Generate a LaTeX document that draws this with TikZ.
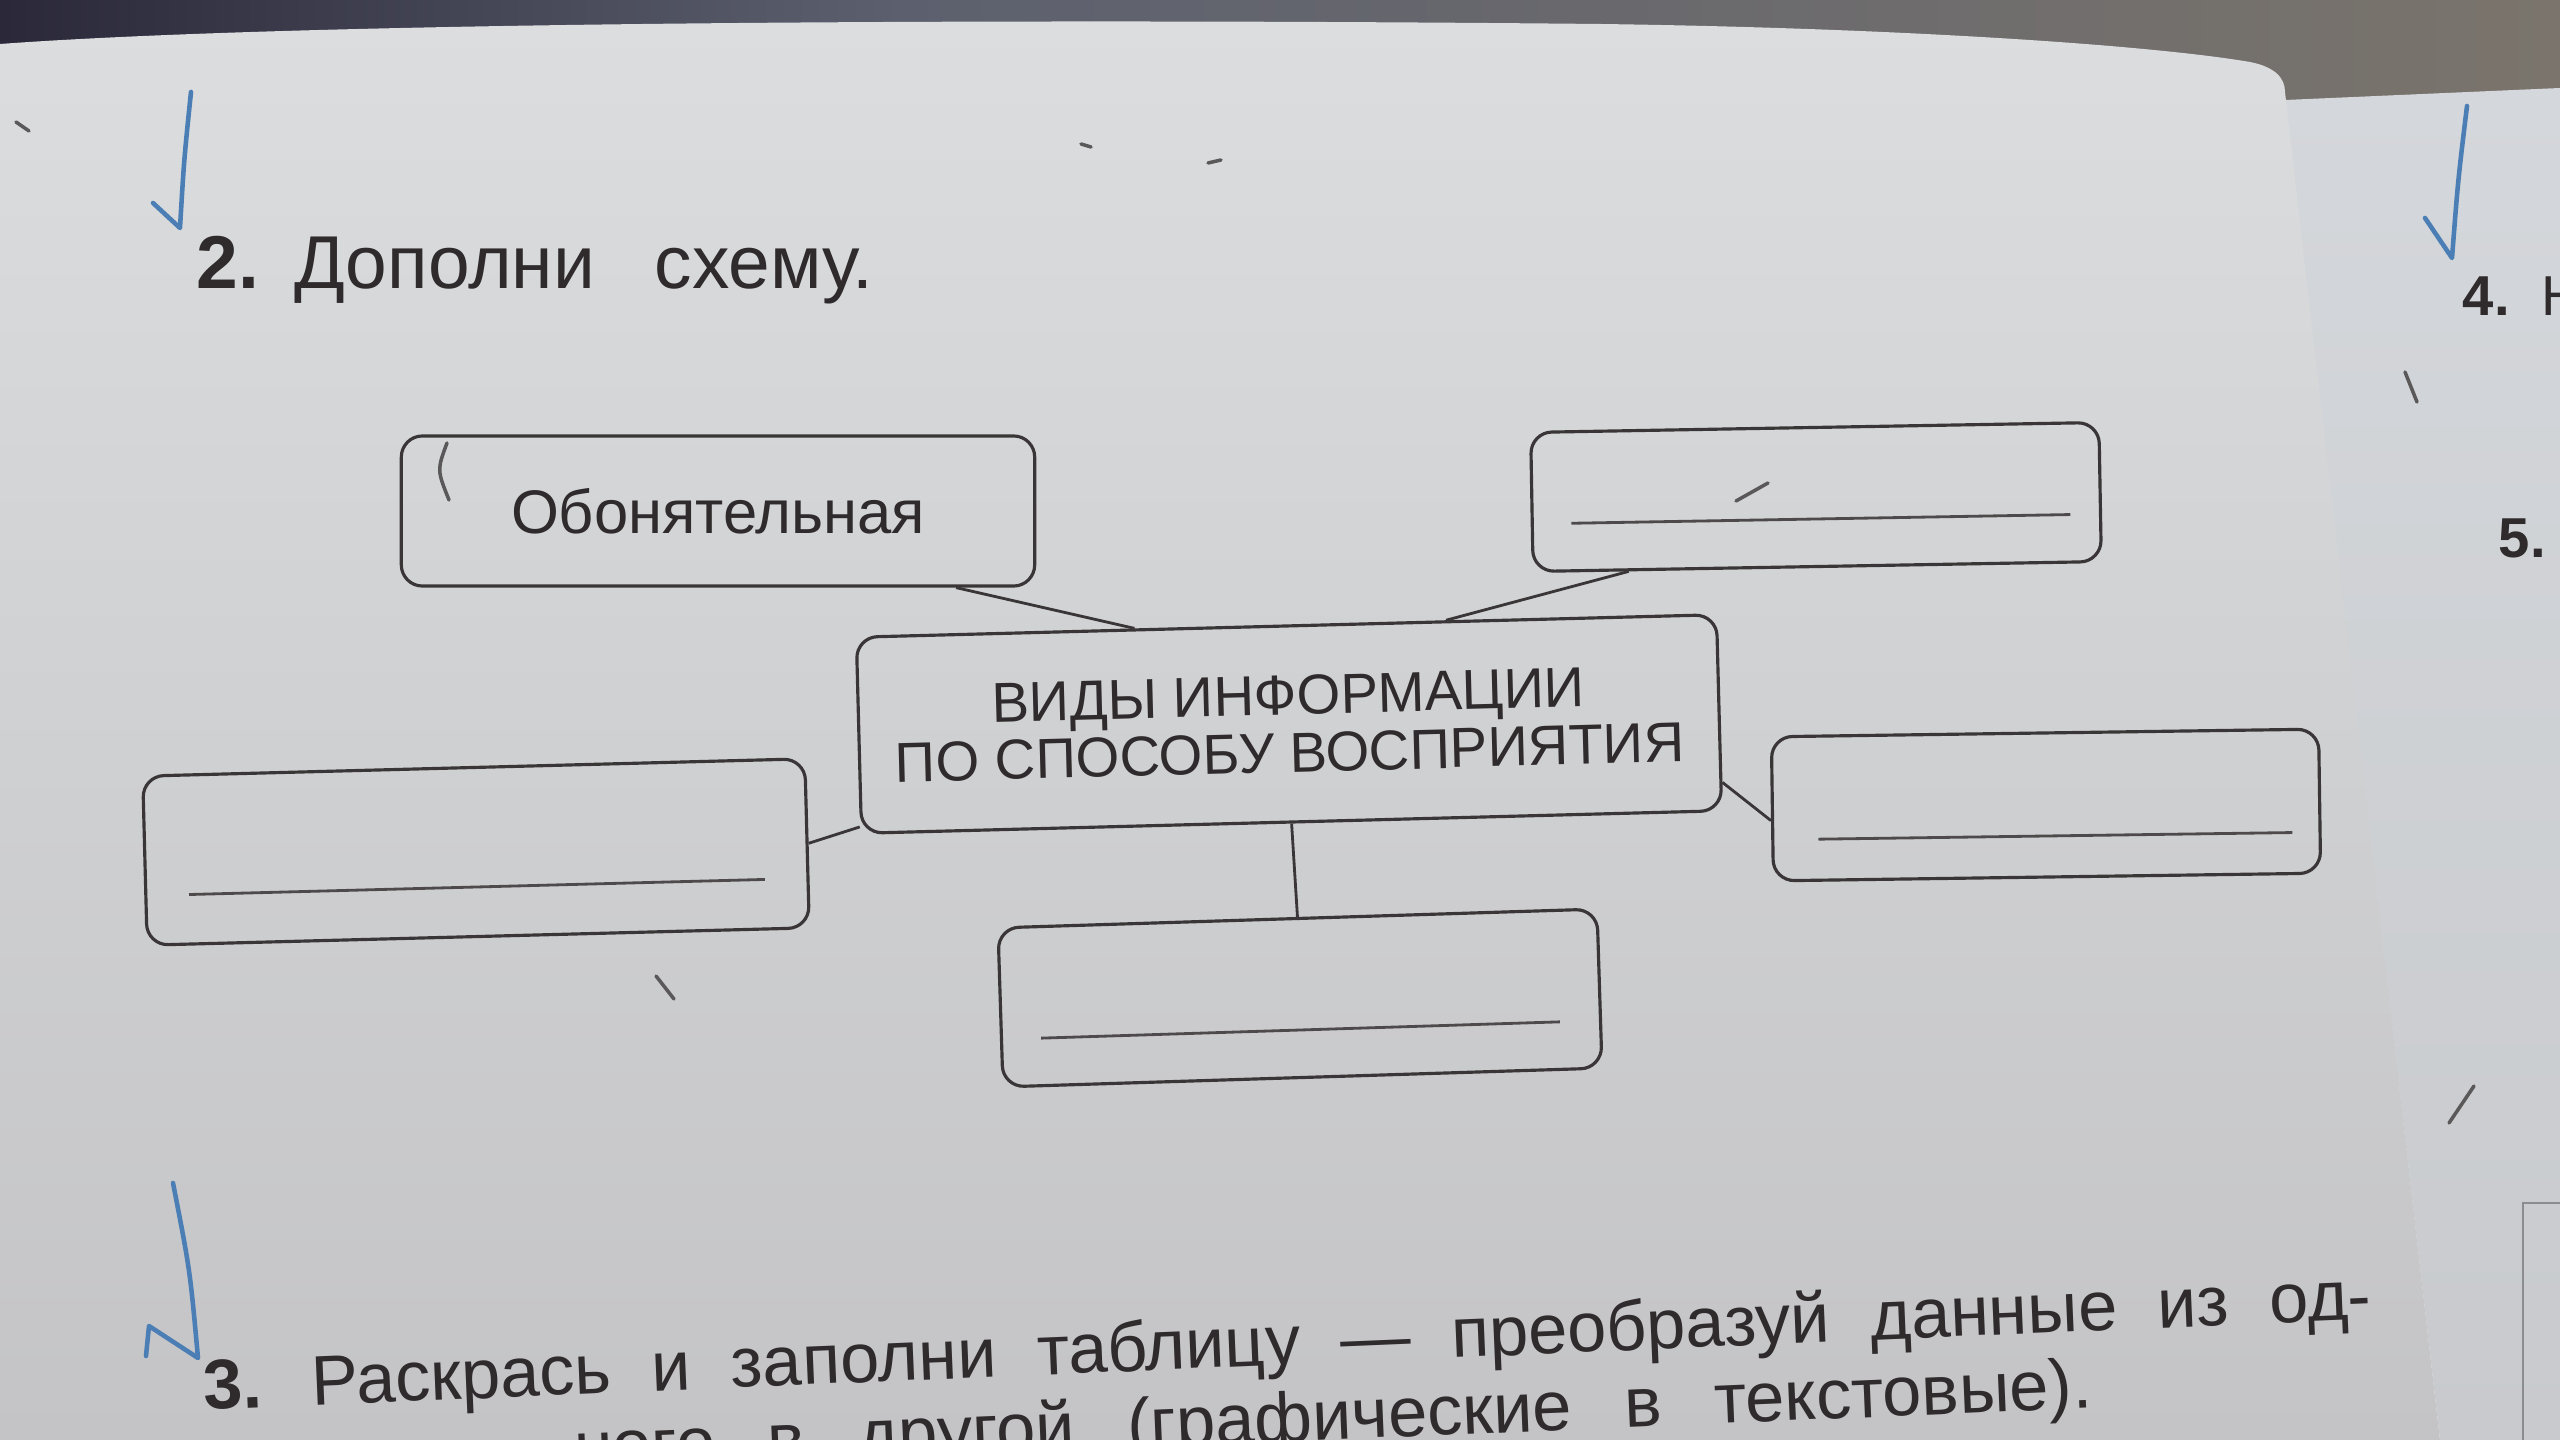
\documentclass[tikz,border=0pt]{standalone}
\usepackage{fontspec}
\setmainfont{Liberation Sans}
\usetikzlibrary{calc}
\definecolor{ink}{HTML}{2F2A2B}
\definecolor{boxline}{HTML}{3A3536}
\definecolor{pen}{HTML}{4A7EB5}
\definecolor{pencil}{HTML}{5A5858}
\definecolor{pagetop}{HTML}{DBDDDF}
\definecolor{pagebot}{HTML}{C4C4C6}
\definecolor{rpagetop}{HTML}{D4D7DB}
\definecolor{rpagebot}{HTML}{C8CACD}
\definecolor{clothA}{HTML}{2A2839}
\definecolor{clothB}{HTML}{5C606E}
\definecolor{clothC}{HTML}{7A746C}
\definecolor{framegray}{HTML}{8C8C8E}
\tikzset{
  box/.style={draw=boxline, line width=0.9pt, rounded corners=6pt, inner sep=0pt, text=ink, align=center},
  conn/.style={draw=boxline, line width=0.8pt},
  uline/.style={draw=ink!85, line width=0.8pt},
  check/.style={draw=pen, line width=1.3pt, line cap=round, line join=round},
  pmark/.style={draw=pencil, line width=1pt, line cap=round},
  txt/.style={text=ink, inner sep=0pt},
}
\begin{document}
\begin{tikzpicture}[x=0.01cm,y=-0.01cm]
\useasboundingbox (0,0) rectangle (2560,1440);
\clip (0,0) rectangle (2560,1440);
% background: cloth / table
\shade[left color=clothA, right color=clothB] (0,0) rectangle (900,130);
\shade[left color=clothB, right color=clothC] (900,0) rectangle (2560,130);
% right page
\shade[top color=rpagetop, bottom color=rpagebot] (2285,100) -- (2560,88) -- (2560,1440) -- (2440,1440) -- cycle;
% left page
\shade[top color=pagetop, bottom color=pagebot]
  (0,44) .. controls (300,22) and (1000,18) .. (1600,24)
  .. controls (1900,28) and (2150,45) .. (2250,62)
  .. controls (2275,67) and (2285,78) .. (2285,92)
  -- (2440,1440) -- (0,1440) -- cycle;

% title
\node[txt, anchor=base west] (title) at (196,289)
  {\fontsize{21.3}{24}\selectfont\textbf{2.}\hspace{10pt}Дополни\hspace{17pt}схему.};

% boxes
\node[box, minimum width=6.33cm, minimum height=1.50cm, font=\fontsize{17.5}{20}\selectfont] (ob) at (718,511)
  {Обонятельная};
\node[box, rotate=1, minimum width=5.68cm, minimum height=1.39cm] (tr) at (1816,497) {};
\node[box, rotate=1.5, minimum width=8.60cm, minimum height=1.96cm, font=\fontsize{16}{16.4}\selectfont] (c) at (1289,724)
  {ВИДЫ ИНФОРМАЦИИ\\ПО СПОСОБУ ВОСПРИЯТИЯ};
\node[box, rotate=1.5, minimum width=6.62cm, minimum height=1.69cm] (l) at (476,852) {};
\node[box, rotate=0.8, minimum width=5.47cm, minimum height=1.44cm] (r) at (2046,805) {};
\node[box, rotate=1.8, minimum width=5.99cm, minimum height=1.59cm] (b) at (1300,998) {};

% answer lines inside empty boxes
\begin{scope}[shift={(tr.center)}, rotate=1]
  \draw[uline] (-245,22) -- (254,22);
\end{scope}
\begin{scope}[shift={(l.center)}, rotate=1.5]
  \draw[uline] (-288,35) -- (288,35);
\end{scope}
\begin{scope}[shift={(r.center)}, rotate=0.8]
  \draw[uline] (-228,31) -- (246,31);
\end{scope}
\begin{scope}[shift={(b.center)}, rotate=1.8]
  \draw[uline] (-260,32) -- (259,32);
\end{scope}

% connectors
\draw[conn] ($(ob.south west)!0.874!(ob.south east)$) -- ($(c.north west)!0.324!(c.north east)$);
\draw[conn] ($(tr.south west)!0.17!(tr.south east)$) -- ($(c.north west)!0.685!(c.north east)$);
\draw[conn] ($(c.north west)!0.96!(c.south west)$) -- ($(l.north east)!0.5!(l.south east)$);
\draw[conn] ($(c.north east)!0.85!(c.south east)$) -- ($(r.north west)!0.58!(r.south west)$);
\draw[conn] (c.south) -- (b.north);

% task 3
\begin{scope}[shift={(204,1410)}, rotate=2.4]
  \node[txt, anchor=base west, transform shape] (t3a) at (0,0)
    {\fontsize{20}{24}\selectfont\makebox[617pt][s]{\textbf{3.}\hspace{14pt}Раскрась и заполни таблицу — преобразуй данные из од-}};
  \node[txt, anchor=base east, transform shape] (t3b) at (1888,77)
    {\fontsize{20}{24}\selectfont\spaceskip=15pt ного в другой (графические в текстовые).};
\end{scope}

% right page
\node[txt, anchor=base west] (t4) at (2462,316) {\fontsize{16}{19}\selectfont\textbf{4.}\hspace{9pt}Н};
\node[txt, anchor=base west] (t5) at (2498,558) {\fontsize{16}{19}\selectfont\textbf{5.}};
\draw[draw=framegray, line width=0.8pt] (2560,1203) -- (2523,1203) -- (2523,1440);

% blue check marks
\draw[check] (153,203) -- (180,228) .. controls (184,160) .. (191,92);
\draw[check] (2425,218) -- (2452,258) .. controls (2458,180) .. (2467,106);
\draw[check] (146,1356) -- (149,1326) -- (198,1358) .. controls (190,1270) .. (173,1183);

% pencil marks
\draw[pmark] (447,443) .. controls (437,470) .. (449,500);
\draw[pmark] (1736,501) -- (1768,483);
\draw[pmark] (2449,1123) -- (2474,1086);
\draw[pmark] (2405,372) -- (2417,402);
\draw[pmark] (656,976) -- (674,999);
\draw[pmark] (1081,144) -- (1091,147);
\draw[pmark] (1208,163) -- (1221,160);
\draw[pmark] (16,122) -- (29,131);
\end{tikzpicture}
\end{document}
